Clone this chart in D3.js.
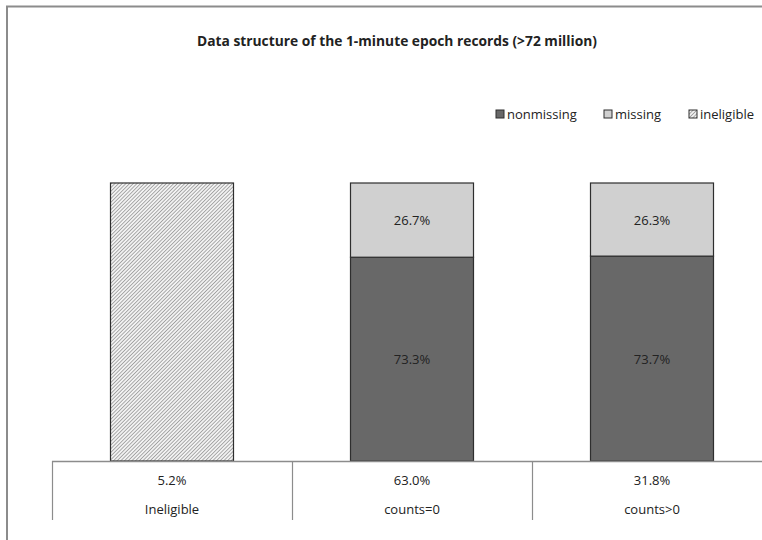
<!DOCTYPE html>
<html>
<head>
<meta charset="utf-8">
<script src="https://cdn.jsdelivr.net/npm/d3@7"></script>
<style>
  body { margin: 0; background: #fff; }
  text { font-family: "Open Sans", "Noto Sans", sans-serif; fill: #222; }
</style>
</head>
<body>
<script>
// chart data
var categories = ["Ineligible", "counts=0", "counts>0"];
var shareOfRecords = [5.2, 63.0, 31.8];
var nonmissing = [0, 73.3, 73.7];
var missing = [0, 26.7, 26.3];
var ineligible = [100, 0, 0];
var seriesNames = ["nonmissing", "missing", "ineligible"];

var width = 762, height = 540;
var svg = d3.select("body").append("svg").attr("width", width).attr("height", height);

// hatch for the ineligible bar
var defs = svg.append("defs");
var pat = defs.append("pattern")
    .attr("id", "hatch")
    .attr("patternUnits", "userSpaceOnUse")
    .attr("width", 2.6).attr("height", 2.6)
    .attr("patternTransform", "rotate(45)");
pat.append("rect").attr("width", 2.6).attr("height", 2.6).attr("fill", "#f2f2f2");
pat.append("line").attr("x1", 0).attr("y1", 0).attr("x2", 0).attr("y2", 2.6)
    .attr("stroke", "#7c7c7c").attr("stroke-width", 1.2);

// outer frame (cut off at right/bottom like the original)
svg.append("path")
    .attr("d", "M7,540 L7,6.5 L762,6.5")
    .attr("fill", "none").attr("stroke", "#8c8c8c").attr("stroke-width", 2);

svg.append("text")
    .attr("x", 397).attr("y", 46)
    .attr("text-anchor", "middle")
    .style("font-size", "13.5px").style("font-weight", "bold")
    .attr("textLength", 400).attr("lengthAdjust", "spacingAndGlyphs")
    .text("Data structure of the 1-minute epoch records (>72 million)");

var x = d3.scaleBand().domain(categories).range([52, 772]);
var y = d3.scaleLinear().domain([0, 100]).range([461, 183]);
var barW = 123;

var colors = { nonmissing: "#686868", missing: "#d0d0d0", ineligible: "url(#hatch)" };

var rows = categories.map(function (c, i) {
    return { cat: c, nonmissing: nonmissing[i], missing: missing[i], ineligible: ineligible[i] };
});
var stack = d3.stack().keys(seriesNames)(rows);

stack.forEach(function (layer) {
    var g = svg.append("g");
    g.selectAll("rect")
        .data(layer.filter(function (d) { return d[1] > d[0]; }))
        .enter().append("rect")
        .attr("x", function (d) { return x(d.data.cat) + x.bandwidth() / 2 - barW / 2; })
        .attr("y", function (d) { return y(d[1]); })
        .attr("width", barW)
        .attr("height", function (d) { return y(d[0]) - y(d[1]); })
        .attr("fill", colors[layer.key])
        .attr("stroke", "#2e2e2e").attr("stroke-width", 1.2);

    if (layer.key != "ineligible") {
        g.selectAll("text")
            .data(layer.filter(function (d) { return d[1] > d[0]; }))
            .enter().append("text")
            .attr("x", function (d) { return x(d.data.cat) + x.bandwidth() / 2; })
            .attr("y", function (d) { return (y(d[0]) + y(d[1])) / 2 + 5; })
            .attr("text-anchor", "middle")
            .style("font-size", "13px")
            .text(function (d) { return (d[1] - d[0]).toFixed(1) + "%"; });
    }
});

// data table below the bars
var tbl = svg.append("g");
tbl.append("line").attr("x1", 52).attr("x2", 762).attr("y1", 461.5).attr("y2", 461.5)
    .attr("stroke", "#8c8c8c").attr("stroke-width", 1.3);
tbl.selectAll(".vline")
    .data(categories)
    .enter().append("line")
    .attr("class", "vline")
    .attr("x1", function (d) { return x(d) + 0.5; })
    .attr("x2", function (d) { return x(d) + 0.5; })
    .attr("y1", 461).attr("y2", 520)
    .attr("stroke", "#8c8c8c").attr("stroke-width", 1.2);
tbl.selectAll(".pct")
    .data(categories)
    .enter().append("text")
    .attr("x", function (d) { return x(d) + x.bandwidth() / 2; })
    .attr("y", 485)
    .attr("text-anchor", "middle")
    .style("font-size", "13px")
    .text(function (d, i) { return shareOfRecords[i].toFixed(1) + "%"; });
tbl.selectAll(".cat")
    .data(categories)
    .enter().append("text")
    .attr("x", function (d) { return x(d) + x.bandwidth() / 2; })
    .attr("y", 514)
    .attr("text-anchor", "middle")
    .style("font-size", "13px")
    .text(function (d) { return d; });

// legend
var legX = [496, 604, 689];
var leg = svg.selectAll(".leg").data(seriesNames).enter().append("g")
    .attr("transform", function (d, i) { return "translate(" + legX[i] + ",110)"; });
leg.append("rect").attr("width", 8).attr("height", 8)
    .attr("fill", function (d) { return colors[d]; })
    .attr("stroke", "#2e2e2e").attr("stroke-width", 1);
leg.append("text").attr("x", 11).attr("y", 9)
    .style("font-size", "13px")
    .text(function (d) { return d; });
</script>
</body>
</html>
